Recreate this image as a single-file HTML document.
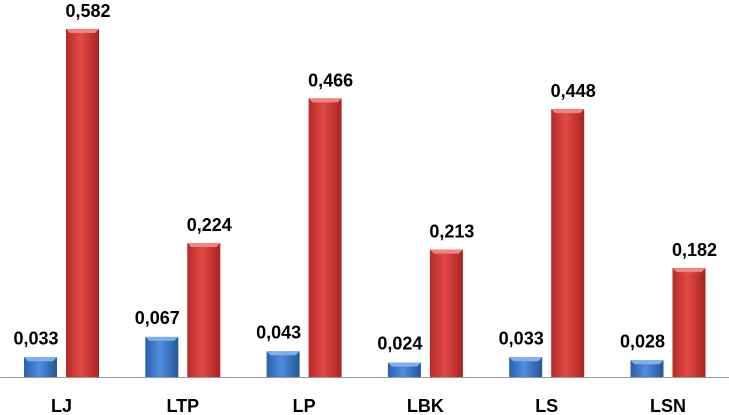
<!DOCTYPE html>
<html><head><meta charset="utf-8"><style>
html,body{margin:0;padding:0;background:#fff;width:729px;height:415px;overflow:hidden}
svg{display:block;font-family:"Liberation Sans",sans-serif}
</style></head><body>
<svg id="chart" width="729" height="415" viewBox="0 0 729 415">
<defs>
<linearGradient id="gb" x1="0" x2="1" y1="0" y2="0"><stop offset="0" stop-color="#2a5fa8"/><stop offset="0.45" stop-color="#4f8de0"/><stop offset="1" stop-color="#24569a"/></linearGradient>
<linearGradient id="gr" x1="0" x2="1" y1="0" y2="0"><stop offset="0" stop-color="#b52a27"/><stop offset="0.45" stop-color="#e34a44"/><stop offset="1" stop-color="#a82220"/></linearGradient>
</defs>
<line x1="0" x2="729" y1="377.5" y2="377.5" stroke="#999" stroke-width="1"/>
<g id="bars"></g>
</svg>
<script>
const categories=["LJ","LTP","LP","LBK","LS","LSN"];
const seriesBlue=[0.033,0.067,0.043,0.024,0.033,0.028];
const seriesRed=[0.582,0.224,0.466,0.213,0.448,0.182];
const blueLabels=["0,033","0,067","0,043","0,024","0,033","0,028"];
const redLabels=["0,582","0,224","0,466","0,213","0,448","0,182"];
const base=377,scale=598;
const y=v=>base-v*scale;
const x0=24,step=121.3,bw=33,gap=9;
const g=document.getElementById('bars');
const NS="http://www.w3.org/2000/svg";
function bar(x,v,fill,cap,name){
  const h=v*scale;
  const r=document.createElementNS(NS,'rect');
  r.setAttribute('x',x);r.setAttribute('y',y(v));r.setAttribute('width',bw);r.setAttribute('height',h);
  r.setAttribute('fill',fill);
  
  
  g.appendChild(r);
  const c=document.createElementNS(NS,'polygon');
  const t=y(v);
  c.setAttribute('points',`${x},${t} ${x+bw},${t} ${x+bw-4},${t+4} ${x+4},${t+4}`);
  c.setAttribute('fill',cap);
  
  
  g.appendChild(c);
}
function label(x,yy,txt,name,size){
  const t=document.createElementNS(NS,'text');
  t.setAttribute('x',x);t.setAttribute('y',yy);t.setAttribute('text-anchor','middle');
  t.setAttribute('font-weight','bold');t.setAttribute('font-size',size);t.setAttribute('fill','#000');
  t.textContent=txt;
  
  
  g.appendChild(t);
}
categories.forEach((c,i)=>{
  const xb=x0+i*step, xr=xb+bw+gap;
  bar(xb,seriesBlue[i],'url(#gb)','#7fb0ee','bar-blue-'+c.toLowerCase());
  bar(xr,seriesRed[i],'url(#gr)','#f08580','bar-red-'+c.toLowerCase());
  label(xb+12,y(seriesBlue[i])-13,blueLabels[i],'value-label-blue-'+c.toLowerCase(),18);
  label(xr+22,y(seriesRed[i])-12,redLabels[i],'value-label-red-'+c.toLowerCase(),18);
  label(xb+bw+gap/2,412,c,'x-label-'+c.toLowerCase(),18);
});
</script>
</body></html>
